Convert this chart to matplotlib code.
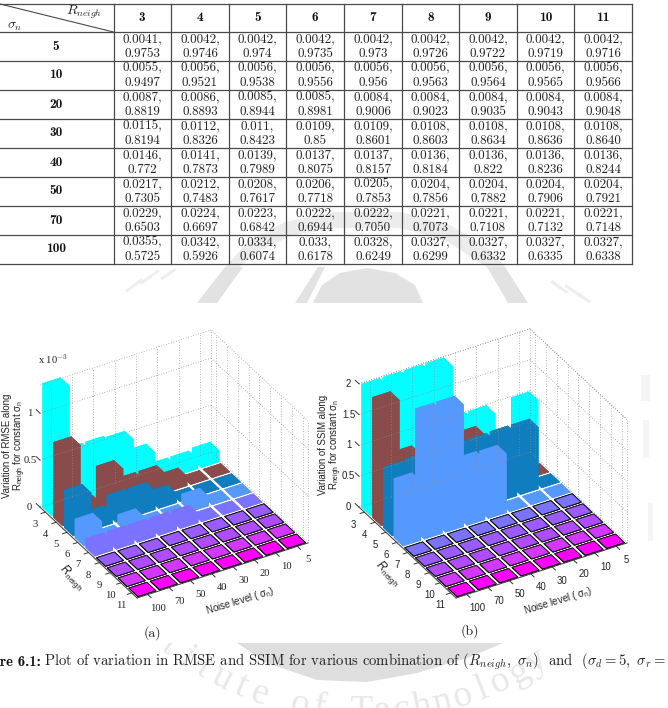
import numpy as np
import matplotlib
matplotlib.use("Agg")
import matplotlib.pyplot as plt
from matplotlib.patches import Polygon, Rectangle
from mpl_toolkits.mplot3d import proj3d

plt.rcParams["mathtext.fontset"] = "custom"
plt.rcParams["mathtext.rm"] = "Liberation Sans"
plt.rcParams["mathtext.it"] = "Liberation Sans"
plt.rcParams["mathtext.default"] = "it"

r_neigh = ["3", "4", "5", "6", "7", "8", "9", "10", "11"]
sigma_rows = ["5", "10", "20", "30", "40", "50", "70", "100"]
sigma_axis = ["100", "70", "50", "40", "30", "20", "10", "5"]

# table cells, first and second line of each cell
rmse_cells = [
    ["0.0041", "0.0042", "0.0042", "0.0042", "0.0042", "0.0042", "0.0042", "0.0042", "0.0042"],
    ["0.0055", "0.0056", "0.0056", "0.0056", "0.0056", "0.0056", "0.0056", "0.0056", "0.0056"],
    ["0.0087", "0.0086", "0.0085", "0.0085", "0.0084", "0.0084", "0.0084", "0.0084", "0.0084"],
    ["0.0115", "0.0112", "0.011", "0.0109", "0.0109", "0.0108", "0.0108", "0.0108", "0.0108"],
    ["0.0146", "0.0141", "0.0139", "0.0137", "0.0137", "0.0136", "0.0136", "0.0136", "0.0136"],
    ["0.0217", "0.0212", "0.0208", "0.0206", "0.0205", "0.0204", "0.0204", "0.0204", "0.0204"],
    ["0.0229", "0.0224", "0.0223", "0.0222", "0.0222", "0.0221", "0.0221", "0.0221", "0.0221"],
    ["0.0355", "0.0342", "0.0334", "0.033", "0.0328", "0.0327", "0.0327", "0.0327", "0.0327"],
]
ssim_cells = [
    ["0.9753", "0.9746", "0.974", "0.9735", "0.973", "0.9726", "0.9722", "0.9719", "0.9716"],
    ["0.9497", "0.9521", "0.9538", "0.9556", "0.956", "0.9563", "0.9564", "0.9565", "0.9566"],
    ["0.8819", "0.8893", "0.8944", "0.8981", "0.9006", "0.9023", "0.9035", "0.9043", "0.9048"],
    ["0.8194", "0.8326", "0.8423", "0.85", "0.8601", "0.8603", "0.8634", "0.8636", "0.8640"],
    ["0.772", "0.7873", "0.7989", "0.8075", "0.8157", "0.8184", "0.822", "0.8236", "0.8244"],
    ["0.7305", "0.7483", "0.7617", "0.7718", "0.7853", "0.7856", "0.7882", "0.7906", "0.7921"],
    ["0.6503", "0.6697", "0.6842", "0.6944", "0.7050", "0.7073", "0.7108", "0.7132", "0.7148"],
    ["0.5725", "0.5926", "0.6074", "0.6178", "0.6249", "0.6299", "0.6332", "0.6335", "0.6338"],
]

# bar heights, one row per R_neigh, columns sigma 100 ... 5
rmse_var = [
    [1.32, 0.55, 0.55, 0.53, 0.32, 0.10, 0.10, 0.12],
    [0.80, 0.10, 0.40, 0.20, 0.20, 0.10, 0.00, 0.00],
    [0.40, 0.10, 0.20, 0.20, 0.10, 0.00, 0.00, 0.00],
    [0.20, 0.00, 0.10, 0.00, 0.00, 0.10, 0.00, 0.00],
    [0.10, 0.10, 0.10, 0.10, 0.10, 0.00, 0.00, 0.00],
    [0.00, 0.00, 0.00, 0.00, 0.00, 0.00, 0.00, 0.00],
    [0.00, 0.00, 0.00, 0.00, 0.00, 0.00, 0.00, 0.00],
    [0.00, 0.00, 0.00, 0.00, 0.00, 0.00, 0.00, 0.00],
    [0.00, 0.00, 0.00, 0.00, 0.00, 0.00, 0.00, 0.00],
]
ssim_var = [
    [2.00, 2.00, 2.00, 2.00, 1.00, 1.00, 0.25, 1.00],
    [1.95, 0.96, 0.80, 0.90, 0.94, 0.60, 0.20, 0.00],
    [0.98, 1.00, 0.90, 0.99, 0.99, 1.00, 1.00, 0.00],
    [0.96, 1.98, 1.98, 0.97, 0.96, 0.00, 0.00, 0.00],
    [0.00, 0.00, 0.00, 0.00, 0.00, 0.00, 0.00, 0.00],
    [0.00, 0.00, 0.00, 0.00, 0.00, 0.00, 0.00, 0.00],
    [0.00, 0.00, 0.00, 0.00, 0.00, 0.00, 0.00, 0.00],
    [0.00, 0.00, 0.00, 0.00, 0.00, 0.00, 0.00, 0.00],
    [0.00, 0.00, 0.00, 0.00, 0.00, 0.00, 0.00, 0.00],
]
row_colors = ["#00ffff", "#8a4b4b", "#0f7dbe", "#5599ff", "#7b73ff",
              "#9a5cff", "#b04cff", "#d238ff", "#ff00ff"]

W, H = 668, 708
fig = plt.figure(figsize=(W / 100, H / 100), dpi=100, facecolor="white")

# page layer in pixel coordinates, y pointing down
page = fig.add_axes([0, 0, 1, 1])
page.set_xlim(0, W)
page.set_ylim(H, 0)
page.axis("off")

# faint emblem behind the page
mark = "#e2e2e2"
for pts in [
    [(197, 303), (217, 303), (243, 267), (225, 267)],
    [(295, 303), (307, 303), (325, 267), (318, 267)],
    [(313, 303), (423, 303), (415, 285), (395, 273), (367, 268), (340, 273), (322, 285)],
    [(487, 267), (505, 267), (528, 303), (508, 303)],
]:
    page.add_patch(Polygon(pts, closed=True, fc=mark, ec="none", zorder=0))
arch = [(225, 267), (250, 240), (285, 222), (335, 212), (400, 212), (450, 225), (490, 250), (505, 267),
        (487, 267), (445, 240), (400, 228), (335, 228), (290, 236), (258, 252), (240, 267)]
page.add_patch(Polygon(arch, closed=True, fc="#ececec", ec="none", zorder=0))
for x, y, w, h, a in [(125, 290, 20, 3, -35), (140, 282, 22, 3, -35), (160, 278, 18, 3, -35),
                      (552, 280, 20, 3, 35), (566, 284, 20, 3, 35), (578, 292, 16, 3, 35)]:
    page.add_patch(Rectangle((x, y), w, h, angle=a, fc="#eeeeee", ec="none", zorder=0))
for x, y, w, h in [(641, 375, 9, 26), (643, 420, 6, 38), (648, 503, 5, 38)]:
    page.add_patch(Rectangle((x, y), w, h, fc="#f5f5f5", ec="none", zorder=0))

# curved lettering of the emblem, mostly hidden by the sheet below
for k, ch in enumerate("Institute of Technology"):
    ang = np.radians(38.0) - (k - 3) * 20.6 / 317
    px = 365 - 317 * np.sin(ang)
    py = 395 + 317 * np.cos(ang)
    if py > 640 and ch != " ":
        page.text(px, py, ch, fontsize=27, color="#e8e8e8", family="Liberation Serif",
                  ha="center", va="center", rotation=-np.degrees(ang), zorder=0)

# white sheet under the two plots
page.add_patch(Rectangle((0, 303), 640, 340, fc="white", ec="none", zorder=1))

crescent = [(237, 643), (503, 643), (467, 658), (417, 673), (367, 682), (317, 680), (267, 663)]
page.add_patch(Polygon(crescent, closed=True, fc="#dedede", ec="none", zorder=1))

# table
col_x = [113.5, 171, 229, 286, 344, 402, 459, 517, 574, 632]
row_y = [32, 61, 90, 119, 148, 177, 206, 235, 264]
line_c = "#4a4a4a"
page.plot([0, 632], [3.5, 3.5], color=line_c, lw=0.9, zorder=2)
for y in row_y:
    page.plot([0, 632], [y, y], color=line_c, lw=0.9, zorder=2)
for x in col_x:
    page.plot([x, x], [3.5, 264], color=line_c, lw=0.9, zorder=2)
page.plot([0, 113.5], [4, 32], color=line_c, lw=0.8, zorder=2)
page.text(84, 12, r"$R_{neigh}$", fontsize=10, math_fontfamily="cm", ha="center", va="center", color="#222222", zorder=3)
page.text(15, 26, r"$\sigma_n$", fontsize=10, math_fontfamily="cm", ha="center", va="center", color="#222222", zorder=3)
for c, lab in enumerate(r_neigh):
    page.text((col_x[c] + col_x[c + 1]) / 2, 18, lab, family="cmb10", fontsize=9.6,
              ha="center", va="center", color="#111111", zorder=3)
for r, lab in enumerate(sigma_rows):
    page.text(56, (row_y[r] + row_y[r + 1]) / 2, lab, family="cmb10", fontsize=9.6,
              ha="center", va="center", color="#111111", zorder=3)
    for c in range(len(r_neigh)):
        xc = (col_x[c] + col_x[c + 1]) / 2
        page.text(xc, row_y[r] + 7.5, rmse_cells[r][c] + ",", family="cmr10", fontsize=9.4,
                  ha="center", va="center", color="#222222", zorder=3)
        page.text(xc, row_y[r] + 21.5, ssim_cells[r][c], family="cmr10", fontsize=9.4,
                  ha="center", va="center", color="#222222", zorder=3)


def fit_axes(ax, corner_a, corner_b):
    # move and scale the 3D axes so two floor corners land on the given pixels
    def to_px(pt):
        x2, y2, _ = proj3d.proj_transform(pt[0], pt[1], pt[2], ax.get_proj())
        return ax.transData.transform((x2, y2))

    a_t = np.array([corner_a[0], H - corner_a[1]], dtype=float)
    b_t = np.array([corner_b[0], H - corner_b[1]], dtype=float)
    size = 400.0
    left, bottom = 100.0, 100.0
    for _ in range(3):
        ax.set_position([left / W, bottom / H, size / W, size / H])
        ax.apply_aspect()
        a_p = to_px((0, 0, 0))
        b_p = to_px((9, 8, 0))
        k = np.linalg.norm(a_t - b_t) / np.linalg.norm(a_p - b_p)
        centre = np.array([left + size / 2, bottom + size / 2])
        mid_p = (a_p + b_p) / 2
        mid_t = (a_t + b_t) / 2
        new_centre = mid_t + (centre - mid_p) * k
        size *= k
        left, bottom = new_centre - size / 2


def draw_bars(rect_a, rect_b, values, z_max, z_ticks, z_labels, z_px, first_outlined, tick_font, tick_size):
    ax = fig.add_axes([0.1, 0.1, 0.5, 0.5], projection="3d")
    ax.set_proj_type("ortho")
    ax.computed_zorder = False
    ax.patch.set_alpha(0)
    ax.view_init(elev=33.3, azim=-30.4)
    ax.set_xlim(0, 9, view_margin=0)
    ax.set_ylim(0, 8, view_margin=0)
    ax.set_zlim(0, z_max, view_margin=0)
    ax.set_box_aspect((9 * 21.35, 8 * 24.8, z_max * z_px / np.cos(np.radians(33.3))))
    ax.set_axis_off()

    dots = dict(color="#8c8c8c", lw=0.55, ls=(0, (1, 2.4)), zorder=5000)
    solid = dict(color="#333333", lw=0.7, zorder=1)

    # floor edges and tick marks
    ax.plot([0, 9], [0, 0], [0, 0], **solid)
    ax.plot([9, 9], [0, 8], [0, 0], **solid)

    # back walls
    for j in range(8):
        ax.plot([0, 0], [j + 0.5, j + 0.5], [0, z_max], **dots)
    for i in range(9):
        ax.plot([i + 0.5, i + 0.5], [8, 8], [0, z_max], **dots)
    for z in list(z_ticks) + [z_max]:
        ax.plot([0, 0], [0, 8], [z, z], **dots)
        ax.plot([0, 9], [8, 8], [z, z], **dots)
    ax.plot([0, 0], [8, 8], [0, z_max], **dots)
    ax.plot([9, 9], [8, 8], [0, z_max], **dots)

    # bars, painted from the far corner forward
    for i in range(9):
        for j in range(7, -1, -1):
            edge = "#111111" if i >= first_outlined else row_colors[i]
            lw = 0.6 if i >= first_outlined else 0.2
            ax.bar3d(i + 0.08, j + 0.08, 0, 0.84, 0.84, values[i][j], color=row_colors[i],
                     shade=False, edgecolor=edge, linewidth=lw, zorder=10 + i * 10 + (7 - j))

    # ticks and their labels
    drop = 9.0 / z_px
    for i, lab in enumerate(r_neigh):
        ax.plot([i + 0.5, i + 0.5], [0, -0.2], [0, 0], **solid)
        ax.text(i + 0.5, -0.5, -drop, lab, family=tick_font, fontsize=tick_size, color="#222222",
                ha="center", va="center", zorder=6000)
    for j, lab in enumerate(sigma_axis):
        ax.plot([9, 9.3], [j + 0.5, j + 0.5], [0, 0], **solid)
        ax.text(9.95, j + 0.5, -4.0 / z_px, lab, family=tick_font, fontsize=tick_size, color="#222222",
                ha="center", va="center", zorder=6000)
    for z, lab in zip(z_ticks, z_labels):
        ax.plot([0, -0.35], [0, 0], [z, z], color="#333333", lw=0.7, zorder=6000)
        ax.text(-0.95, 0, z - 9.6 / z_px, lab, family=tick_font, fontsize=tick_size, color="#222222",
                ha="center", va="center", zorder=6000)

    fit_axes(ax, rect_a, rect_b)
    return ax


draw_bars((40, 507), (308, 543), rmse_var, 1.3, [0, 0.5, 1], ["0", "0.5", "1"], 94.0, 5,
          "Liberation Serif", 7.6)
draw_bars((359, 507), (627, 543), ssim_var, 2.0, [0, 0.5, 1, 1.5, 2], ["0", "0.5", "1", "1.5", "2"], 61.7, 4,
          "Liberation Sans", 6.9)

# axis titles
sans = dict(family="Liberation Sans", color="#222222", ha="center", va="center", multialignment="center")
page.text(53, 359, r"x 10$^{-3}$", family="Liberation Serif", math_fontfamily="cm", fontsize=7.6,
          color="#222222", ha="center", va="center")
page.text(15, 446, "Variation of RMSE along\nR$_{neigh}$ for constant σ$_n$", fontsize=6.9, rotation=90, linespacing=0.95, **sans)
page.text(331, 445, "Variation of SSIM along\nR$_{neigh}$ for constant σ$_n$", fontsize=6.9, rotation=90, linespacing=0.95, **sans)
page.text(72, 578, "R$_{neigh}$", fontsize=8.5, rotation=-45, style="italic", **sans)
page.text(388, 574, "R$_{neigh}$", fontsize=8.5, rotation=-45, style="italic", **sans)
page.text(240, 601, "Noise level ( σ$_n$)", fontsize=7, rotation=17, **sans)
page.text(558, 601, "Noise level ( σ$_n$)", fontsize=7, rotation=17, **sans)

# subfigure tags and caption, the caption runs past both page edges
page.text(152, 633, "(a)", family="cmr10", fontsize=10, color="#222222", ha="center", va="center")
page.text(470, 631, "(b)", family="cmr10", fontsize=10, color="#222222", ha="center", va="center")
page.text(41, 662, "Figure 6.1:", family="cmb10", fontsize=10.6, color="#111111", ha="right", va="center")
page.text(44, 662, r"Plot of variation in RMSE and SSIM for various combination of $(R_{neigh},\ \sigma_n)$  and  $(\sigma_d=5,\ \sigma_r=$",
          family="cmr10", math_fontfamily="cm", fontsize=10.6, color="#222222", ha="left", va="center")

fig.savefig("out.png", dpi=100, facecolor="white")
